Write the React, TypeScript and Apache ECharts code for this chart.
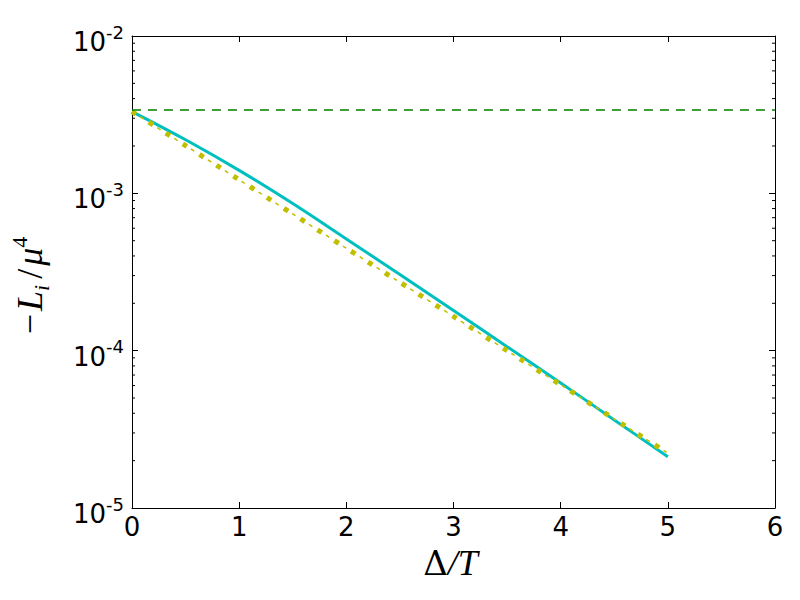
import React, { useEffect, useRef } from "react";
import * as echarts from "echarts";

// x positions (Δ/T)
const xValues = [0, 0.5, 1, 1.5, 2, 2.5, 3, 3.5, 4, 4.5, 5];
// cyan solid curve
const cyanValues = [3.31e-3, 2.19e-3, 1.4e-3, 8.61e-4, 5.13e-4, 3.05e-4, 1.8e-4, 1.06e-4, 6.24e-5, 3.63e-5, 2.12e-5];
// yellow dash-dot curve
const yellowValues = [3.31e-3, 2.01e-3, 1.22e-3, 7.39e-4, 4.48e-4, 2.72e-4, 1.65e-4, 1.0e-4, 6.07e-5, 3.68e-5, 2.23e-5];
// green dashed horizontal level
const greenX = [0, 6];
const greenLevel = 3.39e-3;
// axis ticks
const xTicks = [0, 1, 2, 3, 4, 5, 6];
const yMin = 1e-5;
const yMax = 1e-2;
const yMinorTicks = [
  2e-5, 3e-5, 4e-5, 5e-5, 6e-5, 7e-5, 8e-5, 9e-5,
  2e-4, 3e-4, 4e-4, 5e-4, 6e-4, 7e-4, 8e-4, 9e-4,
  2e-3, 3e-3, 4e-3, 5e-3, 6e-3, 7e-3, 8e-3, 9e-3,
];

export default function App() {
  const ref = useRef<HTMLDivElement>(null);
  useEffect(() => {
    if (!ref.current) return;
    const chart = echarts.init(ref.current, null, { renderer: "svg" });
    const pair = (ys: number[]) => xValues.map((x, i) => [x, ys[i]]);
    const labelFont = "DejaVu Sans";
    const serif = "Liberation Serif";
    chart.setOption({
      animation: false,
      backgroundColor: "#ffffff",
      grid: { left: 130, right: 25, top: 36, bottom: 92, containLabel: false },
      xAxis: [
        {
          type: "value",
          min: xTicks[0],
          max: xTicks[xTicks.length - 1],
          interval: 1,
          position: "bottom",
          axisLine: { show: true, onZero: false, lineStyle: { color: "#000", width: 1 } },
          axisTick: { show: true, inside: true, length: 6, lineStyle: { color: "#000" } },
          splitLine: { show: false },
          axisLabel: { color: "#000", fontSize: 26, fontFamily: labelFont, margin: 6 },
          name: "{u|Δ}{i|/T}",
          nameLocation: "middle",
          nameGap: 36,
          nameTextStyle: {
            padding: [0, 6, 0, 0],
            rich: {
              u: { fontSize: 34, fontFamily: "DejaVu Serif", color: "#000" },
              i: { fontSize: 36, fontFamily: serif, fontStyle: "italic", color: "#000" },
            },
          },
        },
        {
          type: "value",
          min: xTicks[0],
          max: xTicks[xTicks.length - 1],
          interval: 1,
          position: "top",
          axisLine: { show: true, onZero: false, lineStyle: { color: "#000", width: 1 } },
          axisTick: { show: true, inside: true, length: 6, lineStyle: { color: "#000" } },
          splitLine: { show: false },
          axisLabel: { show: false },
        },
      ],
      yAxis: [
        {
          type: "log",
          logBase: 10,
          min: yMin,
          max: yMax,
          splitNumber: 3,
          position: "left",
          axisLine: { show: true, onZero: false, lineStyle: { color: "#000", width: 1 } },
          axisTick: { show: true, inside: true, length: 6, lineStyle: { color: "#000" } },
          splitLine: { show: false },
          axisLabel: {
            margin: 8,
            formatter: (v: number) => `{b|10}{s|${Math.round(Math.log10(v))}}`,
            rich: {
              b: { fontSize: 26, fontFamily: labelFont, color: "#000", lineHeight: 26, padding: [6, 0, 6, 0], verticalAlign: "top" },
              s: { fontSize: 18, fontFamily: labelFont, color: "#000", lineHeight: 18, verticalAlign: "top" },
            },
          },
          name: "{a|−}{l|L}{sub|i}{a|/}{l|μ}{sup|4}",
          nameLocation: "middle",
          nameGap: 80,
          nameRotate: 90,
          nameTextStyle: {
            padding: [0, 30, 0, 0],
            rich: {
              a: { fontSize: 36, fontFamily: serif, color: "#000", lineHeight: 44, verticalAlign: "middle", padding: [0, 3, 0, 3] },
              l: { fontSize: 36, fontFamily: serif, fontStyle: "italic", color: "#000", lineHeight: 44, verticalAlign: "middle" },
              sub: { fontSize: 22, fontFamily: serif, fontStyle: "italic", color: "#000", lineHeight: 22, verticalAlign: "bottom", padding: [0, 3, 0, 0] },
              sup: { fontSize: 22, fontFamily: serif, color: "#000", lineHeight: 22, verticalAlign: "top" },
            },
          },
        },
        {
          type: "log",
          logBase: 10,
          min: yMin,
          max: yMax,
          splitNumber: 3,
          position: "right",
          axisLine: { show: true, onZero: false, lineStyle: { color: "#000", width: 1 } },
          axisTick: { show: true, inside: true, length: 6, lineStyle: { color: "#000" } },
          splitLine: { show: false },
          axisLabel: { show: false },
        },
      ],
      series: [
        {
          type: "custom",
          xAxisIndex: 0,
          yAxisIndex: 0,
          silent: true,
          clip: false,
          data: yMinorTicks.map((v) => [0, v]),
          renderItem: (params: any, api: any) => {
            const p = api.coord([0, api.value(1)]);
            const cs = params.coordSys;
            const style = { stroke: "#000", lineWidth: 1 };
            return {
              type: "group",
              children: [
                { type: "line", shape: { x1: cs.x, y1: p[1], x2: cs.x + 3, y2: p[1] }, style },
                { type: "line", shape: { x1: cs.x + cs.width - 3, y1: p[1], x2: cs.x + cs.width, y2: p[1] }, style },
              ],
            };
          },
        },
        {
          type: "line",
          data: pair(cyanValues),
          smooth: 0.4,
          showSymbol: false,
          lineStyle: { color: "#00bfbf", width: 3 },
          z: 3,
        },
        {
          type: "line",
          data: pair(yellowValues),
          smooth: 0.3,
          showSymbol: false,
          lineStyle: { color: "#bfbf00", width: 5, type: [5, 15], cap: "butt" },
          z: 4,
        },
        {
          type: "line",
          data: pair(yellowValues),
          smooth: 0.3,
          showSymbol: false,
          lineStyle: { color: "#bfbf00", width: 1.5, type: [4, 16], dashOffset: -10, cap: "butt" },
          z: 4,
        },
        {
          type: "line",
          data: greenX.map((x) => [x, greenLevel]),
          showSymbol: false,
          lineStyle: { color: "#008000", width: 1.5, type: [9, 7] },
          z: 5,
        },
      ],
    });
    return () => chart.dispose();
  }, []);
  return (
    <div
      ref={ref}
      style={{ position: "absolute", left: 0, top: 0, width: 800, height: 600, background: "#fff" }}
    />
  );
}
